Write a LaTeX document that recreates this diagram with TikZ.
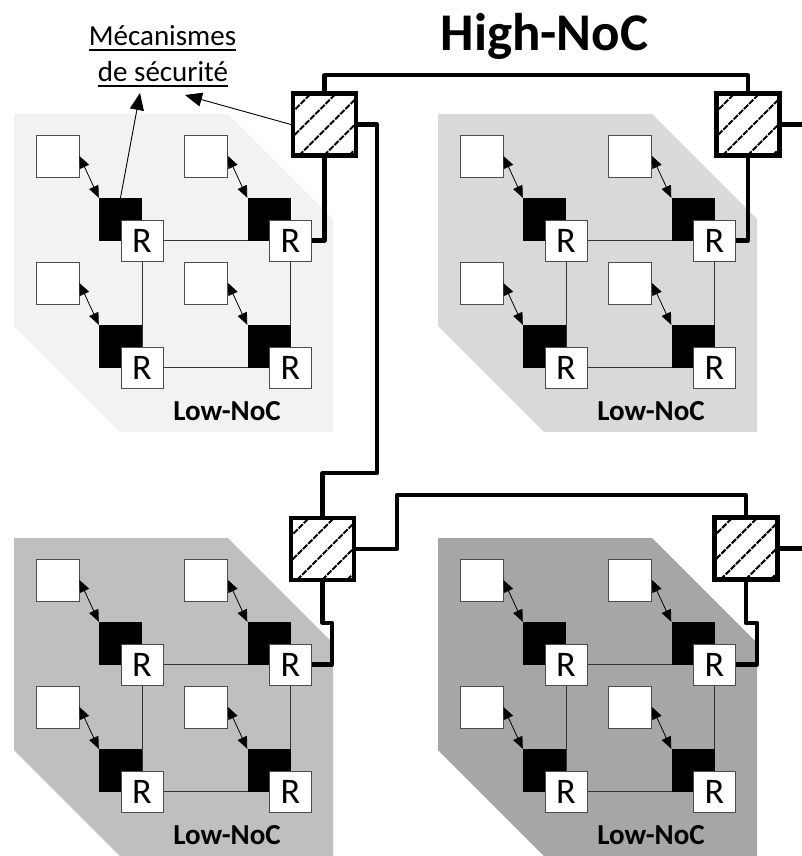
\documentclass[tikz,border=0pt]{standalone}
\usepackage{fontspec}
\setmainfont{Carlito}
\usetikzlibrary{arrows.meta}
\pgfdeclarelayer{backdrop}
\pgfdeclarelayer{mesh}
\pgfsetlayers{backdrop,mesh,main}

\definecolor{lowA}{HTML}{F2F2F2}
\definecolor{lowB}{HTML}{D9D9D9}
\definecolor{lowC}{HTML}{BFBFBF}
\definecolor{lowD}{HTML}{A6A6A6}

\tikzset{
  core/.style={draw=black!70, line width=0.9pt, fill=white,
    minimum width=43pt, minimum height=42pt, inner sep=0pt},
  buffer/.style={fill=black, minimum width=43pt, minimum height=43pt, inner sep=0pt},
  router/.style={draw=black!70, line width=0.9pt, fill=white,
    minimum width=42pt, minimum height=41pt, inner sep=0pt,
    font=\fontsize{36}{40}\selectfont},
  link/.style={black!80, line width=1pt},
  localarrow/.style={line width=0.8pt,
    {Triangle[length=12pt,width=10pt]}-{Triangle[length=12pt,width=10pt]}},
  callout/.style={line width=0.9pt, -{Triangle[length=17pt,width=14pt]}},
  wire/.style={line width=4.2pt, line join=round},
  hatchline/.style={line width=2.1pt, dash pattern=on 6pt off 1.3pt},
  gateway/.style={draw, line width=4.2pt, fill=white,
    minimum width=63pt, minimum height=62pt, inner sep=0pt,
    path picture={
      \foreach \k in {-2,...,2}
        \draw[hatchline] ([xshift=6pt+\k*25pt]path picture bounding box.south west)
          -- ++(90pt,90pt);
    }},
  clusterlabel/.style={font=\bfseries\fontsize{29}{34}\selectfont, anchor=base, inner sep=0pt},
  notetext/.style={font=\fontsize{29}{36}\selectfont, anchor=base, inner sep=0pt},
}

\begin{document}
\begin{tikzpicture}[x=1pt, y=-1pt]
\useasboundingbox (0,0) rectangle (802,856);

% four Low-NoC clusters, each a 2x2 mesh of routers
\foreach \cl/\dx/\dy/\shade in {a/0/0/lowA, b/424/0/lowB, c/0/424/lowC, d/424/424/lowD}{
  \begin{scope}[shift={(\dx,\dy)}]
    \begin{pgfonlayer}{backdrop}
      \fill[\shade] (14,114) -- (228,114) -- (333,219) -- (333,432)
                    -- (120,432) -- (14,326) -- cycle;
    \end{pgfonlayer}
    \foreach \i/\j/\n in {0/0/1, 1/0/2, 0/1/3, 1/1/4}{
      \node[core]   (\cl-core\n) at (57.5+148.5*\i, 156+127*\j) {};
      \node[buffer] (\cl-buf\n)  at (120.5+148.5*\i, 219.5+127*\j) {};
      \node[router] (\cl-r\n)    at (142+148.5*\i, 240.5+127*\j) {R};
      \draw[localarrow] (\cl-core\n.east) -- (\cl-buf\n.north west);
    }
    \begin{pgfonlayer}{mesh}
      \draw[link] (\cl-r1) -- (\cl-r2);
      \draw[link] (\cl-r3) -- (\cl-r4);
      \draw[link] (\cl-r1) -- (\cl-r3);
      \draw[link] (\cl-r2) -- (\cl-r4);
    \end{pgfonlayer}
    \node[clusterlabel] (\cl-label) at (227,420) {Low-NoC};
  \end{scope}
}

% High-NoC gateways
\node[gateway] (g1) at (324.5,124.5) {};
\node[gateway] (g2) at (748,124.5) {};
\node[gateway] (g3) at (322.5,549) {};
\node[gateway] (g4) at (746,548.5) {};

% bends and open ends of the High-NoC wiring
\coordinate (j1) at (377,473);
\coordinate (j2) at (397,495);
\coordinate (j3) at (332,623);
\coordinate (j4) at (757,623);
\coordinate (out2) at (802,124.5);
\coordinate (out4) at (802,548.5);

\draw[wire] (g1.north) -- ++(0,-16) -| (g2.north);
\draw[wire] (g1.east) -| (j1) -| (g3.north);
\draw[wire] (g3.east) -| (j2) -| (g4.north);
\draw[wire] (g2.east) -- (out2);
\draw[wire] (g4.east) -- (out4);
\draw[wire] (g1.south) |- (a-r2.east);
\draw[wire] (g2.south) |- (b-r2.east);
\draw[wire] (g3.south) |- (j3) |- (c-r2.east);
\draw[wire] (g4.south) |- (j4) |- (d-r2.east);

% titles
\node[font=\bfseries\fontsize{53}{60}\selectfont, anchor=base, inner sep=0pt]
  (title) at (544.5,51) {High-NoC};

\node[notetext] (secu1) at (162.5,46) {Mécanismes};
\node[notetext] (secu2) at (163,82) {de sécurité};
\draw[line width=1.3pt] ([yshift=-4pt]secu1.base west) -- ([yshift=-4pt]secu1.base east);
\draw[line width=1.3pt] ([yshift=-4pt]secu2.base west) -- ([yshift=-4pt]secu2.base east);

\coordinate (tip1) at (140,93);
\coordinate (tip2) at (185,95);
\draw[callout] (a-buf1.north) -- (tip1);
\draw[callout] (g1.west) -- (tip2);
\end{tikzpicture}
\end{document}
